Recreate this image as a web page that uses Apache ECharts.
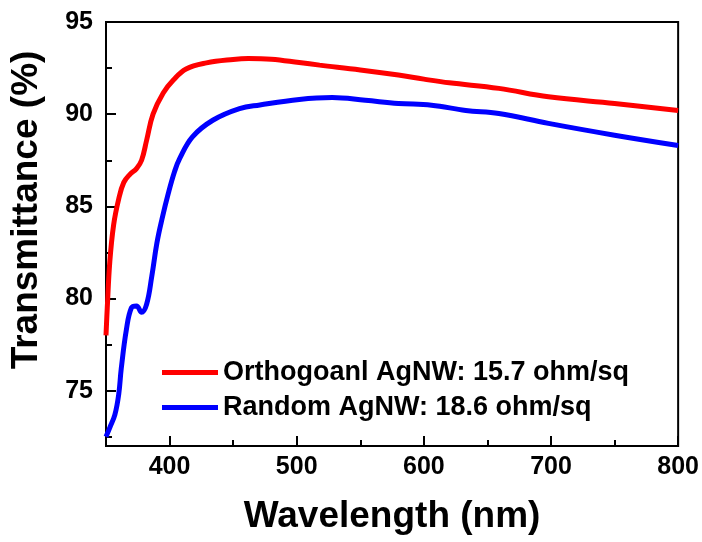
<!DOCTYPE html>
<html lang="en">

<head>
    <meta charset="UTF-8">
    <title>Transmittance</title>
    <script src="https://cdn.jsdelivr.net/npm/echarts@6/dist/echarts.min.js"></script>
    <style>
        body { margin: 0; background: #fff; }
        #main { width: 702px; height: 542px; }
    </style>
</head>

<body>
    <div id="main"></div>

    <script type="text/javascript">
        // wavelength (nm) / transmittance (%)
        var orthoWave = [350, 351, 353, 356, 360, 364, 369, 374, 378, 382, 387, 395, 403, 413, 429, 450, 462, 480, 502, 518, 550, 580, 600, 620, 659, 698, 750, 800];
        var orthoT = [78.0, 79.5, 82.0, 84.0, 85.4, 86.3, 86.75, 87.05, 87.5, 88.6, 90.0, 91.15, 91.85, 92.45, 92.78, 92.97, 93.02, 92.98, 92.8, 92.66, 92.4, 92.12, 91.9, 91.7, 91.4, 90.94, 90.58, 90.2];

        var randomWave = [350, 353, 357, 360, 362, 366, 370, 374, 378, 382, 386, 390, 394, 399, 404, 408, 418, 434, 455, 471, 502, 528, 554, 580, 606, 633, 659, 698, 750, 800];
        var randomT = [72.5, 73.0, 73.7, 74.8, 76.2, 78.3, 79.5, 79.6, 79.25, 79.7, 81.2, 83.0, 84.3, 85.7, 86.9, 87.6, 88.77, 89.67, 90.3, 90.5, 90.8, 90.9, 90.75, 90.58, 90.49, 90.2, 90.04, 89.5, 88.86, 88.3];

        var seriesNames = ['Orthogoanl AgNW: 15.7 ohm/sq', 'Random AgNW: 18.6 ohm/sq'];
        var xMajor = [400, 500, 600, 700, 800];
        var xMinor = [450, 550, 650, 750];
        var yMajor = [75, 80, 85, 90, 95];
        var yMinor = [72.5, 77.5, 82.5, 87.5, 92.5];

        function pairs(xs, ys) {
            return xs.map(function (x, i) { return [x, ys[i]]; });
        }

        var font = 'Liberation Sans, Arial, sans-serif';
        var labelStyle = { color: '#000', fontFamily: font, fontWeight: 'bold', fontSize: 25 };

        var myChart = echarts.init(document.getElementById('main'));
        var option = {
            animation: false,
            grid: {
                left: 106, right: 23, top: 22, bottom: 96,
                show: true, borderColor: '#000', borderWidth: 2, backgroundColor: '#fff'
            },
            legend: {
                orient: 'vertical',
                left: 157, top: 354,
                itemWidth: 56, itemHeight: 5, itemGap: 8,
                icon: 'rect',
                textStyle: { color: '#000', fontFamily: font, fontWeight: 'bold', fontSize: 27 },
                data: seriesNames
            },
            xAxis: [{
                type: 'value', min: 350, max: 800,
                name: 'Wavelength (nm)', nameLocation: 'middle', nameGap: 52,
                nameTextStyle: { color: '#000', fontFamily: font, fontWeight: 'bold', fontSize: 37 },
                axisLine: { show: true, onZero: false, lineStyle: { color: '#000', width: 2 } },
                axisTick: { show: true, inside: true, length: 10, customValues: xMajor, lineStyle: { color: '#000', width: 2 } },
                axisLabel: Object.assign({ customValues: xMajor, margin: 9 }, labelStyle),
                splitLine: { show: false }
            }, {
                type: 'value', min: 350, max: 800, position: 'bottom',
                axisLine: { show: false },
                axisTick: { show: true, inside: true, length: 6, customValues: xMinor, lineStyle: { color: '#000', width: 2 } },
                axisLabel: { show: false },
                splitLine: { show: false }
            }],
            yAxis: [{
                type: 'value', min: 72, max: 95,
                name: 'Transmittance (%)', nameLocation: 'middle', nameGap: 61,
                nameTextStyle: { color: '#000', fontFamily: font, fontWeight: 'bold', fontSize: 37, padding: [0, 0, 0, 48] },
                axisLine: { show: true, onZero: false, lineStyle: { color: '#000', width: 2 } },
                axisTick: { show: true, inside: true, length: 10, customValues: yMajor, lineStyle: { color: '#000', width: 2 } },
                axisLabel: Object.assign({ customValues: yMajor, margin: 13 }, labelStyle),
                splitLine: { show: false }
            }, {
                type: 'value', min: 72, max: 95, position: 'left',
                axisLine: { show: false },
                axisTick: { show: true, inside: true, length: 6, customValues: yMinor, lineStyle: { color: '#000', width: 2 } },
                axisLabel: { show: false },
                splitLine: { show: false }
            }],
            series: [{
                name: seriesNames[0],
                type: 'line',
                smooth: 0.4,
                showSymbol: false,
                itemStyle: { color: '#ff0000' },
                lineStyle: { color: '#ff0000', width: 5 },
                data: pairs(orthoWave, orthoT)
            }, {
                name: seriesNames[1],
                type: 'line',
                smooth: 0.4,
                showSymbol: false,
                itemStyle: { color: '#0000ff' },
                lineStyle: { color: '#0000ff', width: 5 },
                data: pairs(randomWave, randomT)
            }]
        };
        myChart.setOption(option);
    </script>
</body>

</html>
